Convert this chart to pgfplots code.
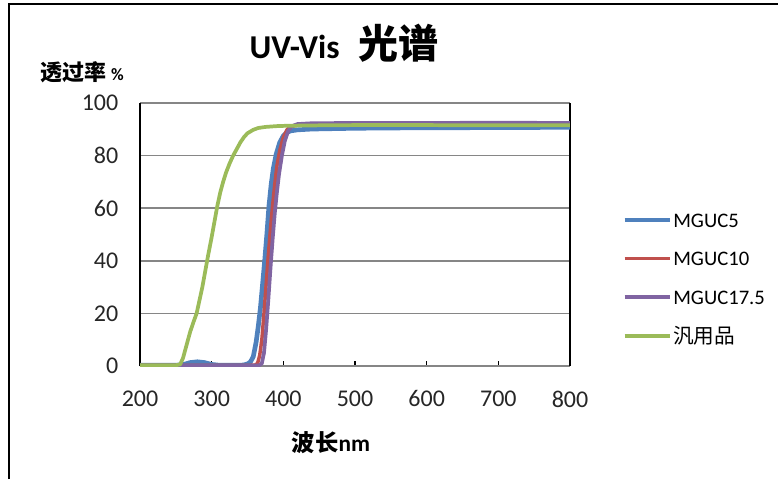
\documentclass[border=0pt]{standalone}
\usepackage{fontspec}
\setmainfont{Carlito}
\newfontfamily\cjk{Noto Sans CJK SC}
\usepackage{pgfplots}
\pgfplotsset{compat=1.18}

\definecolor{xlblue}{HTML}{4F81BD}
\definecolor{xlred}{HTML}{C0504D}
\definecolor{xlpurple}{HTML}{8064A2}
\definecolor{xlgreen}{HTML}{9BBB59}
\definecolor{xlgrid}{HTML}{868686}

\begin{document}
\begin{tikzpicture}
% page = 778 x 479 px, 1 px = 0.75pt
\path[use as bounding box] (0,0) rectangle (583.5pt,359.25pt);
\draw[line width=1.5pt] (6.75pt,0) -- (6.75pt,356.25pt) -- (583.5pt,356.25pt);

\begin{axis}[
    at={(105pt,84.75pt)}, anchor=south west,
    scale only axis,
    width=322.5pt, height=197.25pt,
    xmin=200, xmax=800, ymin=0, ymax=100,
    xtick={200,300,...,800},
    ytick={0,20,...,100},
    separate axis lines,
    x axis line style={xlgrid, line width=1.1pt},
    y axis line style={black, line width=1.1pt},
    ymajorgrids,
    grid style={xlgrid, line width=1.1pt},
    tick align=inside,
    xtick pos=bottom,
    major tick length=3.75pt,
    xtick style={black, line width=0.8pt},
    ytick style={draw=none},
    tick label style={font=\fontsize{18}{20}\selectfont, text=black!85},
    /pgf/number format/assume math mode=true,
    xticklabel style={yshift=-15pt},
    yticklabel style={xshift=-12.75pt},
    legend style={
        at={(rel axis cs:1.121,0.335)}, anchor=west,
        draw=none, fill=none, inner sep=0pt,
        font=\fontsize{15.5}{18}\selectfont,
        row sep=18pt, column sep=1pt,
        nodes={inner sep=0pt, text height=11pt, text depth=0pt, anchor=west},
    },
    legend image code/.code={\draw[#1] (0pt,0pt) -- (33.75pt,0pt);},
]

% MGUC5
\addplot[xlblue, line width=3.5pt, line join=round] coordinates {
(200,0.3) (250,0.3) (260,0.5) (265,0.9) (270,1.3) (280,1.6) (290,1.3) (300,0.6)
(310,0.3) (340,0.3) (345,0.4) (350,0.8) (354,1.5) (358,3.5) (362,9) (365,15)
(368,22) (371,31) (374,40) (377,50) (380,61) (383,69) (386,75) (390,80.5)
(395,85) (400,87.5) (405,88.8) (410,89.4) (420,89.8) (440,90.1) (500,90.4)
(550,90.5) (600,90.6) (650,90.6) (700,90.7) (750,90.7) (800,90.8)
};
\addlegendentry{MGUC5}

% MGUC10
\addplot[xlred, line width=2.6pt, line join=round] coordinates {
(200,0.2) (300,0.2) (360,0.3) (364,1) (367,4) (370,10) (373,20) (376,31)
(379,42) (382,52) (385,61) (388,69) (391,76) (395,82) (400,87) (405,89.8)
(410,91) (420,91.6) (440,91.9) (500,92.1) (600,92.2) (700,92.3) (800,92.3)
};
\addlegendentry{MGUC10}

% MGUC17.5
\addplot[xlpurple, line width=2.8pt, line join=round] coordinates {
(200,0.2) (300,0.2) (366,0.2) (370,1) (373,5) (376,14) (379,25) (382,37)
(385,48) (388,58) (391,66) (394,73) (398,80) (402,85.5) (407,89.5) (412,91.2)
(420,92) (440,92.3) (500,92.4) (600,92.4) (700,92.5) (800,92.4)
};
\addlegendentry{MGUC17.5}

% general-purpose product
\addplot[xlgreen, line width=2.8pt, line join=round] coordinates {
(200,0.3) (250,0.3) (256,0.6) (260,3) (265,8) (270,13) (275,17) (279,20)
(283,25) (287,30) (291,36) (295,42) (300,49) (304,55) (308,61) (312,66)
(316,70) (320,73.5) (325,77) (330,80) (335,82.5) (340,85) (345,87) (350,88.5)
(358,89.8) (365,90.5) (375,90.9) (390,91.2) (400,91.3) (420,91.4) (450,91.5)
(500,91.6) (600,91.6) (700,91.5) (800,91.5)
};
\addlegendentry{{\cjk 汎用品}}
\end{axis}

% title and axis titles
\node at (258pt,326.6pt)
    {\fontsize{25}{30}\selectfont\bfseries UV-Vis\hspace{14pt}{\cjk\fontsize{30}{32}\selectfont 光谱}};
\node[anchor=west, inner sep=0pt] at (30pt,305.25pt)
    {\fontsize{16.5}{18}\selectfont\bfseries{\cjk 透过率} {\fontsize{13}{14}\selectfont\%}};
\node[inner sep=0pt] at (248.25pt,27pt)
    {\fontsize{17.5}{19}\selectfont\bfseries{\cjk 波长}nm};
\end{tikzpicture}
\end{document}
